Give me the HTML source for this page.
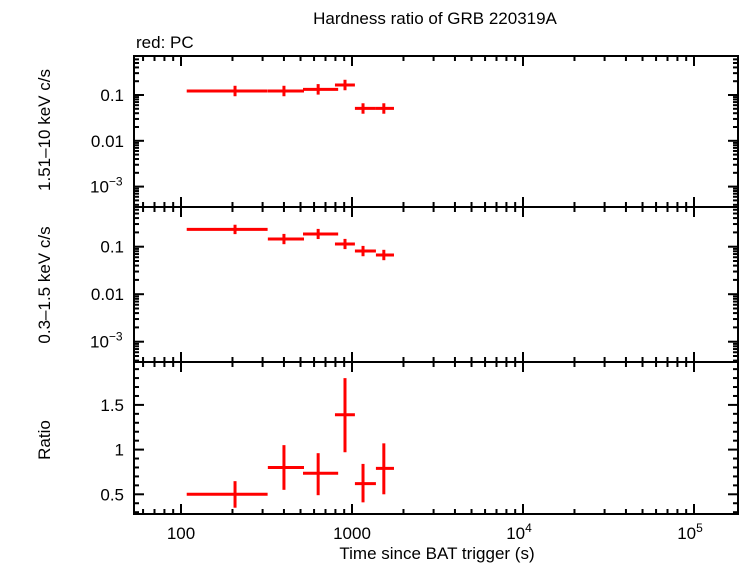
<!DOCTYPE html>
<html><head><meta charset="utf-8"><style>
html,body{margin:0;padding:0;background:#fff;}
svg{display:block;font-family:"Liberation Sans",sans-serif;}
</style></head><body>
<svg id="chart" width="742" height="566" xmlns="http://www.w3.org/2000/svg">
<text x="435" y="24" font-size="17" text-anchor="middle">Hardness ratio of GRB 220319A</text>
<text x="136" y="48" font-size="17">red: PC</text>
<text transform="translate(50,130) rotate(-90)" font-size="17" text-anchor="middle">1.51–10 keV c/s</text>
<text transform="translate(50,285) rotate(-90)" font-size="17" text-anchor="middle">0.3–1.5 keV c/s</text>
<text transform="translate(50,440) rotate(-90)" font-size="17" text-anchor="middle">Ratio</text>
<text x="437" y="559" font-size="17" text-anchor="middle">Time since BAT trigger (s)</text>
<g id="plot"></g>
</svg>
<script>
const tCenter=[207,400,634,910,1160,1535];
const tLo=[108,322,517,795,1040,1380];
const tHi=[321,524,830,1040,1380,1760];
const hardVal=[0.122,0.122,0.133,0.165,0.051,0.051];
const hardLo=[0.094,0.094,0.102,0.127,0.039,0.039];
const hardHi=[0.159,0.159,0.173,0.215,0.066,0.066];
const softVal=[0.232,0.145,0.185,0.114,0.081,0.067];
const softLo=[0.184,0.113,0.145,0.089,0.063,0.052];
const softHi=[0.29,0.186,0.237,0.146,0.104,0.086];
const ratioVal=[0.5,0.8,0.735,1.39,0.62,0.79];
const ratioLo=[0.35,0.55,0.49,0.97,0.41,0.5];
const ratioHi=[0.647,1.05,0.96,1.8,0.84,1.07];
const xTickBase=["100","1000","10","10"];
const xTickSup=["","","4","5"];
const logTickBase=["0.1","0.01","10"];
const logTickSup=["","","−3"];
const ratioTicks=[0.5,1,1.5];

const NS="http://www.w3.org/2000/svg";
const g=document.getElementById('plot');
const X0=134,X1=738;
const xs=t=>181+(Math.log10(t)-2)*171;
const panels=[
 {top:56,bot:207,y:v=>95-(Math.log10(v)+1)*45.8,log:true},
 {top:207,bot:362,y:v=>246.7-(Math.log10(v)+1)*47.5,log:true},
 {top:362,bot:514,y:v=>494.3-(v-0.5)*89.4,log:false}
];
function el(tag,attrs,parent){const e=document.createElementNS(NS,tag);for(const k in attrs)e.setAttribute(k,attrs[k]);(parent||g).appendChild(e);return e;}
function line(x1,y1,x2,y2,c,w){return el('line',{x1,y1,x2,y2,stroke:c,'stroke-width':w});}
function label(x,y,base,sup,anchor){
 const tx=el('text',{x:x,y:y,'font-size':17,'text-anchor':anchor});
 const a=el('tspan',{},tx);a.textContent=base;
 if(sup){const b=el('tspan',{dy:-7,'font-size':12},tx);b.textContent=sup;}
 return tx;
}

panels.forEach((p,pi)=>{
 for(let d=1;d<=5;d++){for(let m=1;m<10;m++){const t=m*Math.pow(10,d);const x=xs(t);if(x<X0+1||x>X1-1)continue;const L=m===1?10:5;
  line(x,p.top,x,p.top+L,'#000',2);line(x,p.bot,x,p.bot-L,'#000',2);}}
 if(p.log){for(let d=-4;d<=0;d++){for(let m=1;m<10;m++){const v=m*Math.pow(10,d);const y=p.y(v);if(y<p.top+1||y>p.bot-1)continue;const L=m===1?10:5;
  line(X0,y,X0+L,y,'#000',2);line(X1,y,X1-L,y,'#000',2);}}
  logTickBase.forEach((s,i)=>{const y=p.y(Math.pow(10,-1-i));
   const tx=label(X0-10-(logTickSup[i]?14:0),y+6,s,logTickSup[i],logTickSup[i]?'middle':'end');
   if(logTickSup[i]){tx.setAttribute('text-anchor','start');tx.setAttribute('x',X0-44);}
   
   });
 } else {
  for(let v=0.3;v<1.99;v+=0.1){const y=p.y(v);const maj=Math.abs(v*2-Math.round(v*2))<0.01;const L=maj?10:5;
   line(X0,y,X0+L,y,'#000',2);line(X1,y,X1-L,y,'#000',2);}
  ratioTicks.forEach(v=>{const tx=el('text',{x:X0-10,y:p.y(v)+6,'font-size':17,'text-anchor':'end'});tx.textContent=String(v);
   
   });
 }
 const fr=el('rect',{x:X0,y:p.top,width:X1-X0,height:p.bot-p.top,fill:'none',stroke:'#000','stroke-width':2});
 
 
 const vals=[hardVal,softVal,ratioVal][pi],lo=[hardLo,softLo,ratioLo][pi],hi=[hardHi,softHi,ratioHi][pi];
 tCenter.forEach((t,i)=>{
  const grp=el('g',{});
  
  
  const y=p.y(vals[i]),x=xs(t);
  el('line',{x1:xs(tLo[i]),y1:y,x2:xs(tHi[i]),y2:y,stroke:'#f00','stroke-width':3},grp);
  el('line',{x1:x,y1:p.y(lo[i]),x2:x,y2:p.y(hi[i]),stroke:'#f00','stroke-width':3},grp);
 });
});
xTickBase.forEach((s,i)=>{
 const x=xs(Math.pow(10,i+2));
 const tx=label(xTickSup[i]?x-4:x,539,s,xTickSup[i],'middle');
 
 });
</script>
</body></html>
